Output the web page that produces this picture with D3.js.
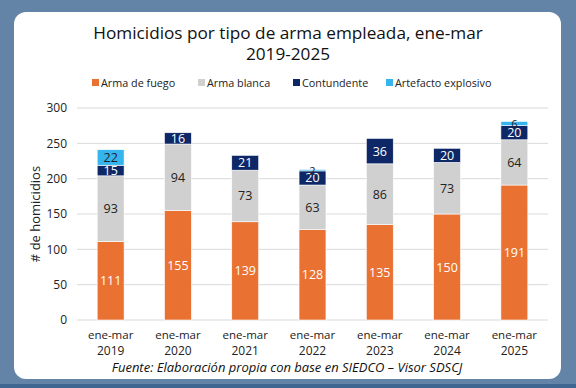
<!DOCTYPE html>
<html>
<head>
<meta charset="utf-8">
<script src="https://cdn.jsdelivr.net/npm/d3@7"></script>
<style>
  body { margin: 0; background: #6384a7; }
  svg { display: block; font-family: "Open Sans", "Noto Sans", sans-serif; }
</style>
</head>
<body>
<div id="chart"></div>
<script>
// Data
const years = ["2019", "2020", "2021", "2022", "2023", "2024", "2025"];
const armaFuego = [111, 155, 139, 128, 135, 150, 191];
const armaBlanca = [93, 94, 73, 63, 86, 73, 64];
const contundente = [15, 16, 21, 20, 36, 20, 20];
const explosivo = [22, 0, 0, 2, 0, 0, 6];
const seriesNames = ["Arma de fuego", "Arma blanca", "Contundente", "Artefacto explosivo"];
const yTicks = [0, 50, 100, 150, 200, 250, 300];

const colors = ["#e97132", "#d0d0d0", "#0e2766", "#35b4ee"];
const labelColors = ["#ffffff", "#222222", "#ffffff", "#222222"];

const W = 576, H = 388;
const svg = d3.select("#chart").append("svg")
    .attr("width", W)
    .attr("height", H);

// Background + panel
svg.append("rect").attr("width", W).attr("height", H).attr("fill", "#6384a7");
svg.append("rect").attr("x", 0).attr("y", 384).attr("width", W).attr("height", 4).attr("fill", "#3f6690");
svg.append("rect")
    .attr("x", 14).attr("y", 12).attr("width", 547).attr("height", 367)
    .attr("rx", 12).attr("fill", "#ffffff");

// Build stacked table
const table = years.map((y, i) => ({
    year: y,
    "Arma de fuego": armaFuego[i],
    "Arma blanca": armaBlanca[i],
    "Contundente": contundente[i],
    "Artefacto explosivo": explosivo[i]
}));
const stack = d3.stack().keys(seriesNames)(table);

// Scales
const x = d3.scaleBand().domain(years).range([77, 548]).paddingInner(0.6).paddingOuter(0.3);
const y = d3.scaleLinear().domain([0, 300]).range([320, 108]);

// Grid
svg.append("g").selectAll("line").data(yTicks).join("line")
    .attr("x1", 77).attr("x2", 548)
    .attr("y1", d => y(d)).attr("y2", d => y(d))
    .attr("stroke", "#d9d9d9").attr("stroke-width", 1);

// Y axis labels
const yAxis = d3.axisLeft(y).tickValues(yTicks).tickSize(0).tickPadding(10);
svg.append("g")
    .attr("transform", "translate(77,0)")
    .call(yAxis)
    .call(g => g.select(".domain").remove())
    .selectAll("text")
    .attr("font-size", 12).attr("fill", "#222")
    .attr("font-family", "'Open Sans', sans-serif");

svg.append("text")
    .attr("transform", "translate(40,214) rotate(-90)")
    .attr("text-anchor", "middle")
    .attr("font-size", 13).attr("fill", "#222")
    .text("# de homicidios");

// Bars
const layers = svg.append("g").selectAll("g").data(stack).join("g")
    .attr("fill", (d, i) => colors[i]);

layers.selectAll("rect").data(d => d).join("rect")
    .attr("x", d => x(d.data.year))
    .attr("width", x.bandwidth())
    .attr("y", d => y(d[1]))
    .attr("height", d => y(d[0]) - y(d[1]))
    .attr("stroke", "#ffffff").attr("stroke-width", 0.6);

// Data labels
stack.forEach((layer, si) => {
    svg.append("g").selectAll("text").data(layer.filter(d => d[1] - d[0] > 0)).join("text")
        .attr("x", d => x(d.data.year) + x.bandwidth() / 2)
        .attr("y", d => (y(d[0]) + y(d[1])) / 2 + 4.5)
        .attr("text-anchor", "middle")
        .attr("font-size", d => (d[1] - d[0] < 10 ? 11 : 12.5))
        .attr("fill", labelColors[si])
        .text(d => d[1] - d[0]);
});

// X axis labels
const xl = svg.append("g");
years.forEach(yr => {
    const cx = x(yr) + x.bandwidth() / 2;
    xl.append("text").attr("x", cx).attr("y", 339).attr("text-anchor", "middle")
        .attr("font-size", 11.5).attr("fill", "#222").text("ene-mar");
    xl.append("text").attr("x", cx).attr("y", 355).attr("text-anchor", "middle")
        .attr("font-size", 12).attr("fill", "#222").text(yr);
});

// Title
svg.append("text").attr("x", 288).attr("y", 39).attr("text-anchor", "middle")
    .attr("font-size", 17.2).attr("fill", "#111")
    .text("Homicidios por tipo de arma empleada, ene-mar");
svg.append("text").attr("x", 288).attr("y", 60).attr("text-anchor", "middle")
    .attr("font-size", 17.2).attr("fill", "#111")
    .text("2019-2025");

// Legend
const legendX = [92, 198, 293, 386];
const legend = svg.append("g");
seriesNames.forEach((name, i) => {
    legend.append("rect").attr("x", legendX[i]).attr("y", 79).attr("width", 7).attr("height", 7)
        .attr("fill", colors[i]);
    legend.append("text").attr("x", legendX[i] + 9).attr("y", 87)
        .attr("font-size", 10.8).attr("fill", "#222").text(name);
});

// Source
svg.append("text").attr("x", 287).attr("y", 372).attr("text-anchor", "middle")
    .attr("font-size", 13).attr("font-style", "italic").attr("fill", "#111")
    .text("Fuente: Elaboración propia con base en SIEDCO – Visor SDSCJ");
</script>
</body>
</html>
